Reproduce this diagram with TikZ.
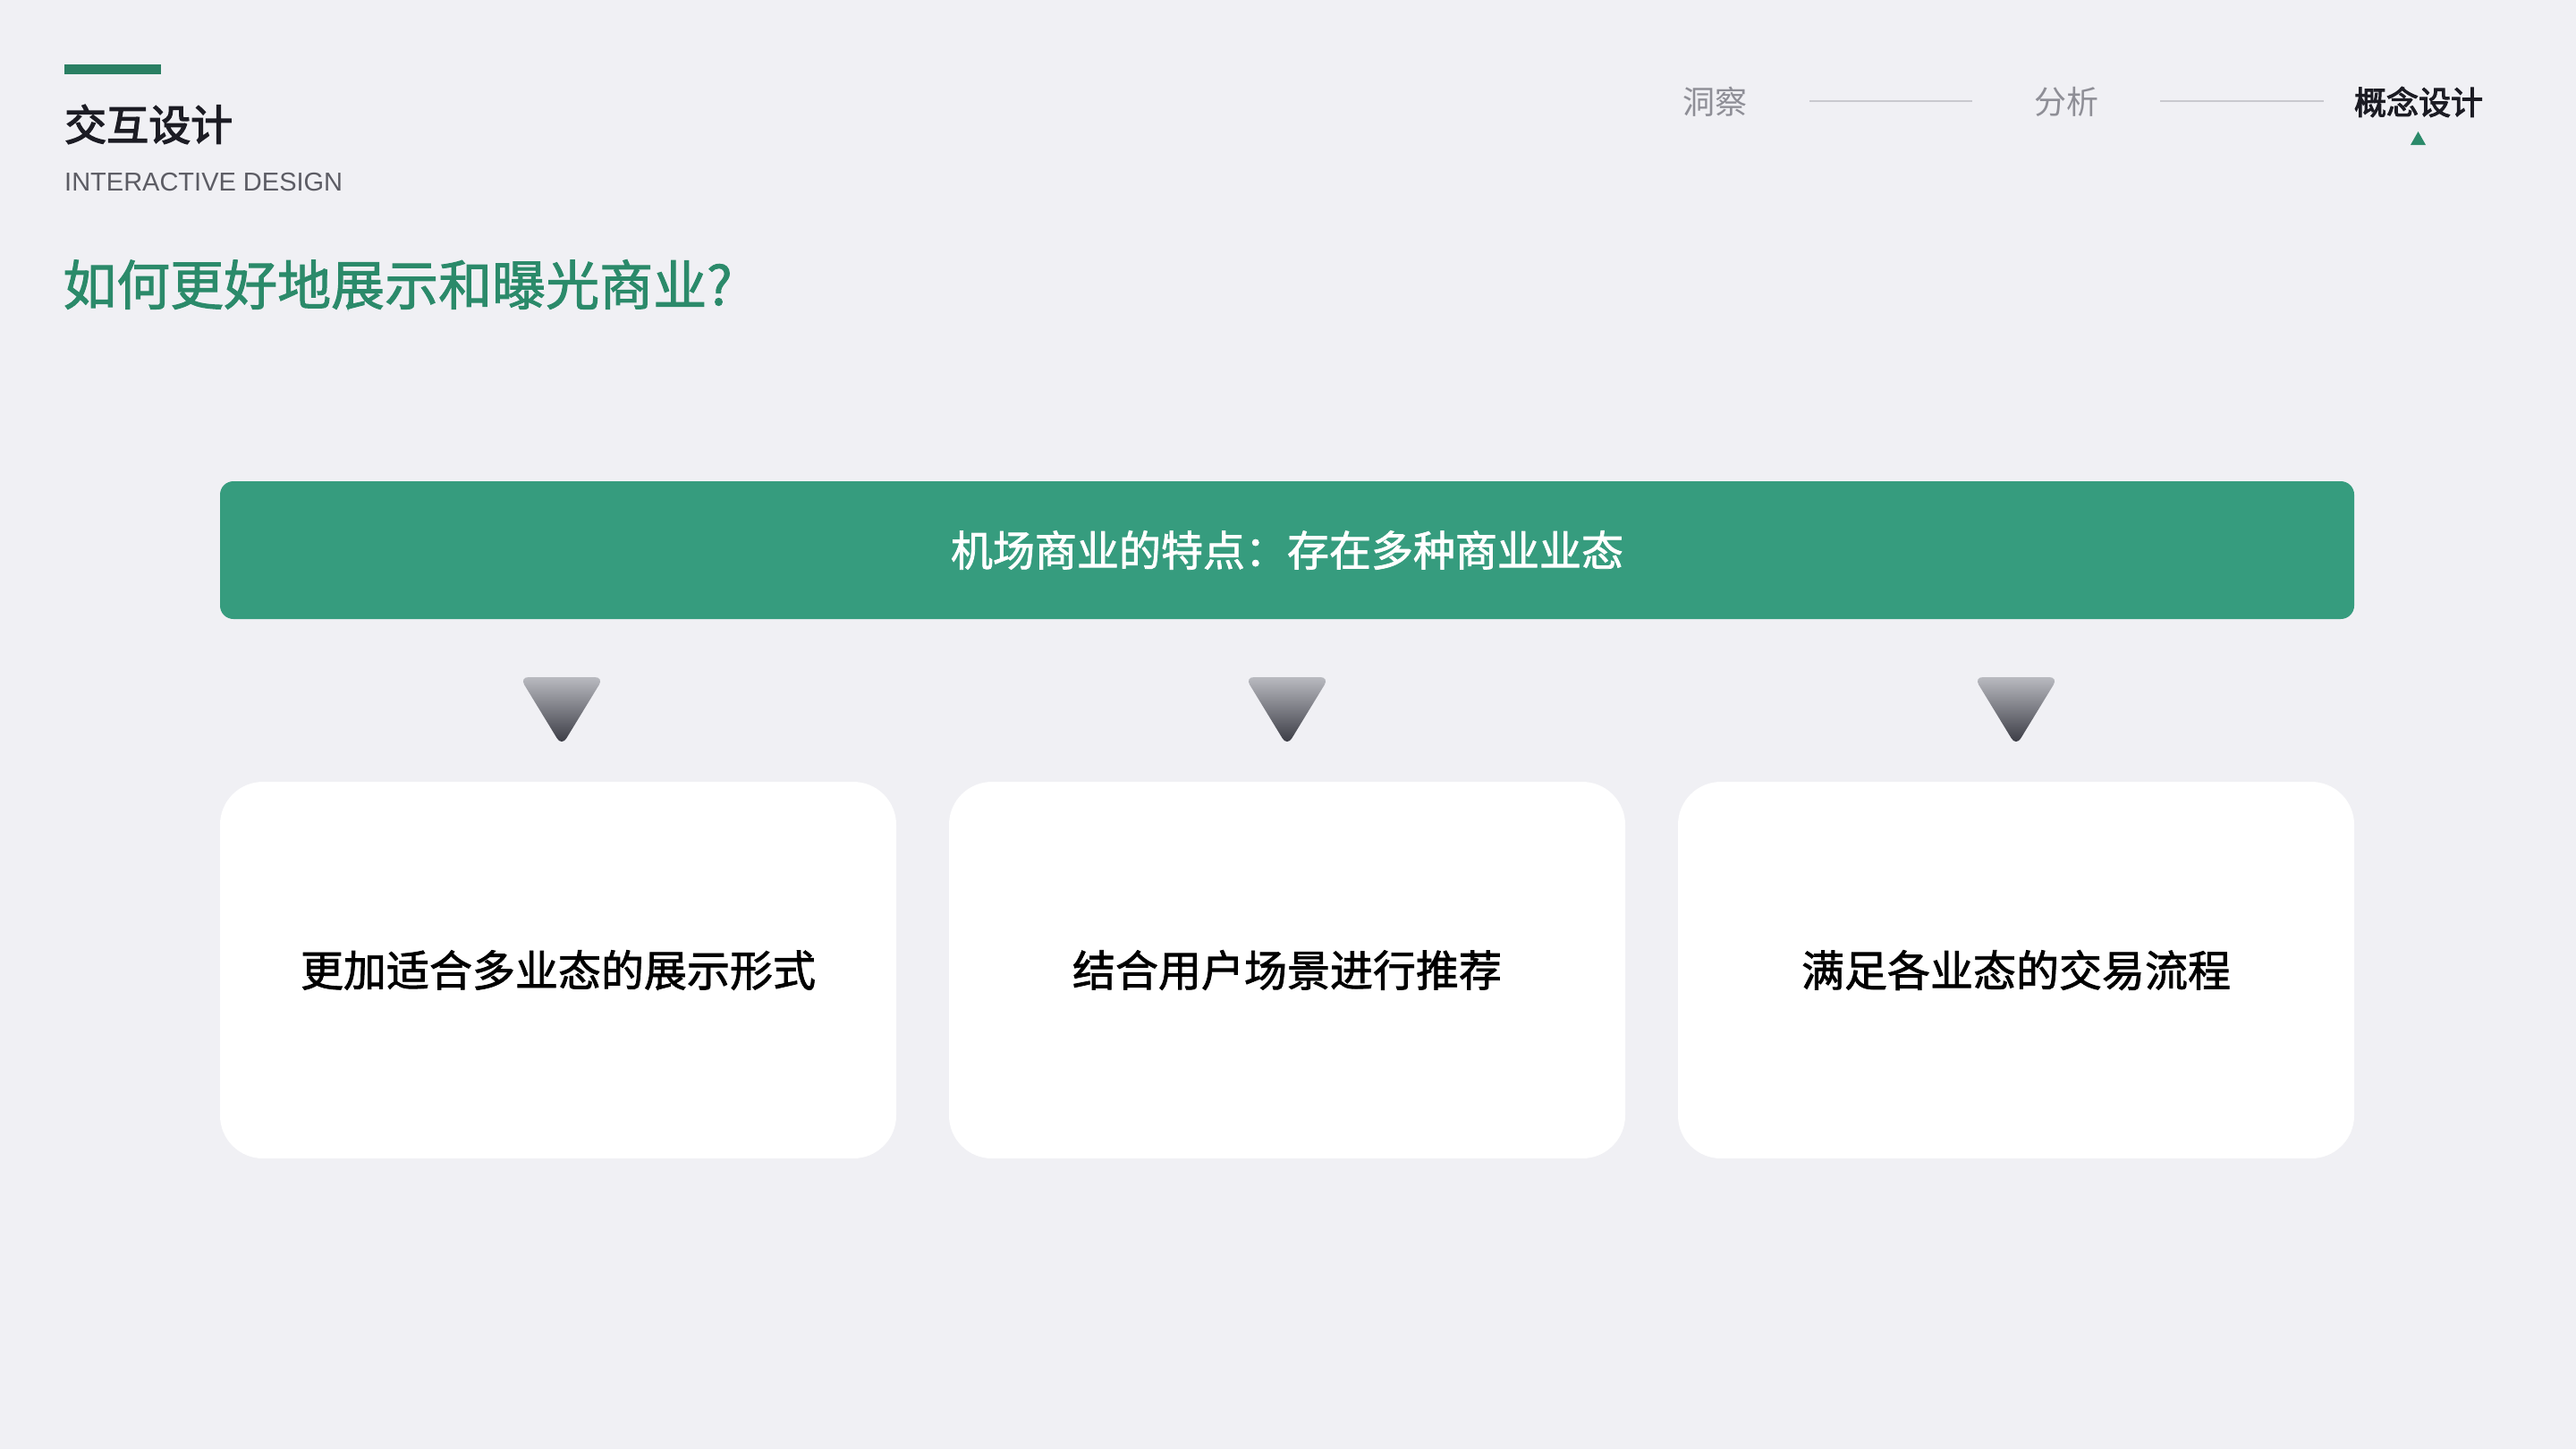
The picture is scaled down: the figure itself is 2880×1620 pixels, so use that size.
\documentclass[tikz,border=0pt]{standalone}
\usepackage{fontspec}
\setmainfont{Liberation Sans}
\newfontfamily\cjk{Noto Sans CJK SC}
\newfontfamily\cjkm[FakeBold=1.6]{Noto Sans CJK SC}
\newfontfamily\cjkb[FakeBold=3]{Noto Sans CJK SC}
\definecolor{bg}{HTML}{F0F0F4}
\definecolor{accent}{HTML}{2A7F63}
\definecolor{titlegreen}{HTML}{2B8A6A}
\definecolor{banner}{HTML}{369C7E}
\definecolor{darktext}{HTML}{1C1C24}
\definecolor{graytext}{HTML}{5C5C64}
\definecolor{navgray}{HTML}{8E8E96}
\definecolor{linegray}{HTML}{C9C9CF}
\definecolor{tritop}{HTML}{B9BAC0}
\definecolor{tribot}{HTML}{34353E}
\tikzset{
  fs/.style={font=\cjk\fontsize{#1}{#1}\selectfont},
  fm/.style={font=\cjkm\fontsize{#1}{#1}\selectfont},
  fb/.style={font=\cjkb\fontsize{#1}{#1}\selectfont},
  card/.style={fill=white, rounded corners=48pt, minimum width=756pt, minimum height=421pt, inner sep=0pt, fm=48, text=black},
  navitem/.style={inner sep=0pt, fs=36, text=navgray},
  navline/.style={draw=linegray, line width=2pt},
  tri/.style={top color=tritop, bottom color=tribot, rounded corners=10pt}
}
\begin{document}
\begin{tikzpicture}[x=1pt,y=-1pt]
\fill[bg] (0,0) rectangle (2880,1620);
\useasboundingbox (0,0) rectangle (2880,1620);
% header
\fill[accent] (72,72) rectangle (180,83);
\node[anchor=west, inner sep=0pt, fb=47, text=darktext] (hd) at (72,139) {交互设计};
\node[anchor=base west, inner sep=0pt, font=\fontsize{29}{29}\selectfont, text=graytext] (sub) at (72,213) {INTERACTIVE DESIGN};
\node[anchor=west, inner sep=0pt, fm=60, text=titlegreen] (q) at (70,318) {如何更好地展示和曝光商业?};
% nav
\node[navitem] (n1) at (1917,114) {洞察};
\node[navitem] (n2) at (2310,114) {分析};
\node[navitem, fb=36, text=darktext] (n3) at (2704,114) {概念设计};
\coordinate (l1a) at (2023,113); \coordinate (l1b) at (2205,113);
\coordinate (l2a) at (2415,113); \coordinate (l2b) at (2598,113);
\draw[navline] (l1a) -- (l1b);
\draw[navline] (l2a) -- (l2b);
\fill[titlegreen] (2695,162) -- (2712,162) -- (2703.5,147) -- cycle;
% banner
\node[fill=banner, rounded corners=15pt, minimum width=2386pt, minimum height=154pt, inner sep=0pt, fm=47, text=white] (ban) at (1439,615) {机场商业的特点：存在多种商业业态};
% triangles
\foreach \cx in {628,1439,2254}{
  \shade[tri] (\cx-47,757) -- (\cx+47,757) -- (\cx,834) -- cycle;
}
% cards
\node[card] (c1) at (624,1084.5) {更加适合多业态的展示形式};
\node[card] (c2) at (1439,1084.5) {结合用户场景进行推荐};
\node[card] (c3) at (2254,1084.5) {满足各业态的交易流程};
\end{tikzpicture}
\end{document}
